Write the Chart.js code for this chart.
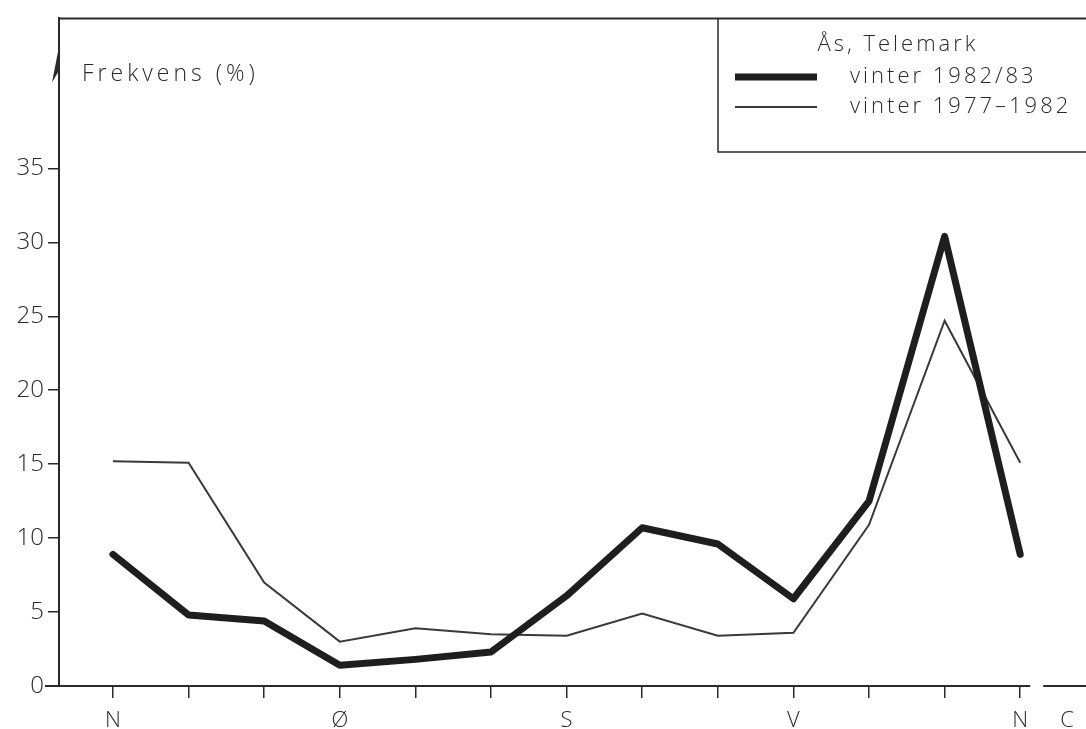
<!DOCTYPE html>
<html>
<head>
<meta charset="utf-8">
<script src="https://cdn.jsdelivr.net/npm/chart.js@4.4.0/dist/chart.umd.min.js"></script>
<style>
  html, body { margin: 0; padding: 0; background: #fff; }
  #wrap { width: 1086px; height: 729px; }
</style>
</head>
<body>
<div id="wrap"><canvas id="grafico"></canvas></div>
<script>
// Vindretning (13 punkter, N -> N) og frekvens i %
const retninger = ['N', '', '', 'Ø', '', '', 'S', '', '', 'V', '', '', 'N'];
const vinter8283 = [8.9, 4.8, 4.4, 1.4, 1.8, 2.3, 6.1, 10.7, 9.6, 5.9, 12.5, 30.4, 8.9];
const vinter7782 = [15.2, 15.1, 7.0, 3.0, 3.9, 3.5, 3.4, 4.9, 3.4, 3.6, 10.9, 24.7, 15.1];
const yTicks = [0, 5, 10, 15, 20, 25, 30, 35];
const stille = 'C';   // calm
const tittel = 'Ås, Telemark';
const serieNavn = ['vinter 1982/83', 'vinter 1977–1982'];

const FONT = '"Open Sans", "DejaVu Sans", sans-serif';
const INK = '#2a2a2a';
const C_POS = 12.62;  // plass for "C" til høyre

const punkter = arr => arr.map((v, i) => ({ x: i, y: v }));

const ramme = {
  id: 'ramme',
  afterDraw(chart) {
    const { ctx, chartArea: a, scales } = chart;
    const y0 = scales.y.getPixelForValue(0);
    ctx.save();
    ctx.strokeStyle = INK;
    ctx.fillStyle = INK;

    // toppstrek
    ctx.lineWidth = 2;
    ctx.beginPath();
    ctx.moveTo(a.left, a.top);
    ctx.lineTo(chart.width, a.top);
    ctx.stroke();

    // x-akse med brudd foer C
    const xEnd = scales.x.getPixelForValue(12) + 10;
    ctx.beginPath();
    ctx.moveTo(a.left - 14, y0);
    ctx.lineTo(xEnd, y0);
    ctx.moveTo(xEnd + 13, y0);
    ctx.lineTo(chart.width, y0);
    ctx.stroke();

    // pil paa y-aksen
    ctx.beginPath();
    ctx.moveTo(a.left, a.top + 28);
    ctx.lineTo(a.left - 7, a.top + 64);
    ctx.lineTo(a.left, a.top + 52);
    ctx.closePath();
    ctx.fill();

    // aksetittel
    ctx.font = '300 23px ' + FONT;
    ctx.letterSpacing = '4px';
    ctx.textBaseline = 'middle';
    ctx.textAlign = 'left';
    ctx.fillText('Frekvens (%)', a.left + 23, a.top + 56);

    // forklaring
    const bx = 718, bb = 152;
    ctx.lineWidth = 1.5;
    ctx.beginPath();
    ctx.moveTo(bx, a.top);
    ctx.lineTo(bx, bb);
    ctx.lineTo(chart.width, bb);
    ctx.stroke();

    ctx.font = '300 22px ' + FONT;
    ctx.letterSpacing = '3px';
    ctx.textAlign = 'center';
    ctx.fillText(tittel, 898, 45);
    ctx.textAlign = 'left';
    const ds = chart.data.datasets;
    [77, 107].forEach((yy, i) => {
      ctx.lineWidth = ds[i].borderWidth;
      ctx.strokeStyle = ds[i].borderColor;
      ctx.lineCap = 'butt';
      ctx.beginPath();
      ctx.moveTo(735, yy);
      ctx.lineTo(817, yy);
      ctx.stroke();
      ctx.fillText(serieNavn[i], 850, yy);
    });
    ctx.restore();
  }
};

new Chart(document.getElementById('grafico'), {
  type: 'line',
  data: {
    datasets: [{
      label: serieNavn[0],
      data: punkter(vinter8283),
      borderColor: '#1e1e1e',
      borderWidth: 7,
      borderJoinStyle: 'round',
      borderCapStyle: 'round',
      pointRadius: 0,
      tension: 0
    }, {
      label: serieNavn[1],
      data: punkter(vinter7782),
      borderColor: '#3a3a3a',
      borderWidth: 2,
      pointRadius: 0,
      tension: 0
    }]
  },
  options: {
    responsive: true,
    maintainAspectRatio: false,
    animation: false,
    layout: { padding: { top: 12, left: 0, right: 0, bottom: 0 } },
    plugins: { legend: { display: false }, tooltip: { enabled: false } },
    scales: {
      x: {
        type: 'linear',
        min: -0.714,
        max: 12.87,
        afterBuildTicks: s => { s.ticks = retninger.map((_, i) => ({ value: i })).concat([{ value: C_POS }]); },
        afterFit: s => { s.height = 43; },
        border: { display: false },
        grid: {
          drawOnChartArea: false,
          tickLength: 12,
          lineWidth: 1.5,
          tickColor: c => (c.tick && c.tick.value > 12.1) ? 'rgba(0,0,0,0)' : INK
        },
        ticks: {
          autoSkip: false,
          maxRotation: 0,
          padding: 10,
          color: INK,
          font: { family: FONT, size: 22, weight: '300' },
          callback: v => (v > 12.1 ? stille : retninger[Math.round(v)])
        }
      },
      y: {
        min: 0,
        max: 45.14,
        afterBuildTicks: s => { s.ticks = yTicks.map(v => ({ value: v })); },
        afterFit: s => { s.width = 59; },
        border: { display: true, color: INK, width: 2 },
        grid: {
          drawOnChartArea: false,
          tickLength: 11,
          lineWidth: 1.5,
          color: INK
        },
        ticks: {
          padding: 4,
          color: INK,
          font: { family: FONT, size: 24, weight: '300' }
        }
      }
    }
  },
  plugins: [ramme]
});
</script>
</body>
</html>
